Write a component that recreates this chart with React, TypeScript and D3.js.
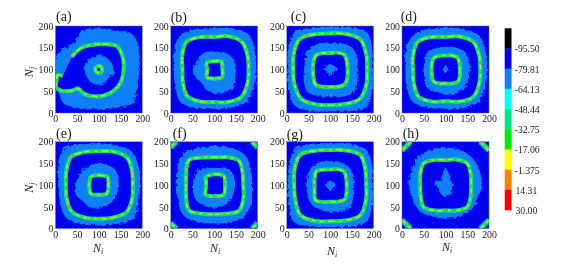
import React, { useEffect, useRef } from 'react';
import * as d3 from 'd3';

const aOuter = [92, 100, 112, 98, 95, 97, 85, 100, 105, 104, 112, 98, 92, 96, 110, 98];
const aBlob = [35, 33, 32, 33, 34, 32, 32, 33, 35, 32, 34, 35, 36, 32, 30, 32];
const aInnerRing = [8, 8, 8, 8, 8, 8, 8, 8, 8, 8, 8, 8, 8, 8, 8, 8];
const bOuter = [96, 101, 113, 102, 95, 101, 111, 100, 93, 97, 108, 97, 90, 96, 105, 101];
const bRing = [79, 83, 90, 83, 75, 81, 90, 80, 73, 78, 87, 80, 75, 81, 89, 83];
const bBlob = [50, 50, 48, 42, 42, 44, 45, 45, 47, 47, 42, 50, 55, 58, 62, 52];
const bInnerRing = [19, 20, 25, 21, 19, 20, 23, 19, 16, 18, 25, 22, 21, 22, 26, 21];
const cOuter = [98, 105, 120, 105, 98, 105, 118, 105, 98, 104, 116, 104, 96, 103, 120, 105];
const cRing = [85, 90, 98, 89, 83, 88, 99, 91, 85, 89, 95, 87, 82, 86, 96, 90];
const cBlob = [63, 67, 71, 66, 60, 65, 69, 62, 60, 66, 73, 66, 62, 68, 75, 68];
const cInnerRing = [40, 42, 47, 42, 38, 41, 46, 42, 40, 42, 48, 43, 40, 43, 48, 43];
const cCenter = [18, 15, 12, 11, 13, 12, 15, 14, 16, 10, 9, 13, 15, 12, 9, 10];
const dOuter = [95, 100, 110, 101, 96, 101, 108, 100, 92, 97, 106, 96, 90, 97, 106, 100];
const dRing = [80, 84, 90, 82, 75, 81, 90, 81, 75, 79, 88, 80, 73, 80, 90, 84];
const dBlob = [56, 58, 60, 55, 52, 54, 58, 52, 50, 52, 60, 55, 58, 60, 62, 56];
const dInnerRing = [33, 35, 39, 35, 32, 34, 38, 34, 32, 34, 39, 35, 32, 35, 40, 36];
const dCenter = [6, 6, 7, 8, 9, 7, 6, 6, 7, 5, 5, 6, 8, 6, 5, 5];
const eOuter = [95, 100, 108, 100, 96, 103, 116, 101, 93, 97, 106, 97, 92, 97, 110, 100];
const eRing = [78, 83, 91, 84, 78, 83, 91, 81, 76, 80, 87, 81, 77, 81, 89, 83];
const eBlob = [45, 48, 52, 50, 50, 50, 50, 50, 55, 57, 52, 55, 54, 50, 48, 45];
const eInnerRing = [22, 24, 28, 24, 23, 24, 27, 23, 22, 23, 27, 24, 22, 24, 27, 24];
const fOuter = [87, 92, 99, 94, 90, 93, 101, 92, 86, 90, 99, 92, 88, 92, 99, 93];
const fRing = [67, 71, 80, 70, 64, 69, 82, 70, 65, 70, 82, 71, 67, 71, 82, 73];
const fBlob = [48, 49, 50, 42, 40, 42, 50, 48, 48, 52, 54, 52, 54, 52, 52, 48];
const fInnerRing = [25, 27, 31, 27, 25, 25, 27, 20, 19, 21, 29, 27, 25, 27, 31, 27];
const gOuter = [98, 105, 116, 103, 96, 103, 116, 103, 98, 103, 119, 103, 96, 103, 118, 105];
const gRing = [83, 88, 98, 87, 81, 86, 98, 89, 83, 87, 97, 89, 83, 88, 98, 89];
const gBlob = [54, 58, 60, 58, 55, 58, 60, 56, 55, 56, 62, 60, 62, 64, 67, 58];
const gInnerRing = [38, 40, 45, 40, 36, 39, 45, 39, 36, 39, 48, 42, 38, 41, 47, 41];
const gCenter = [14, 11, 10, 9, 9, 9, 10, 10, 12, 9, 8, 11, 14, 11, 8, 10];
const hOuter = [84, 85, 88, 88, 86, 88, 90, 85, 85, 82, 85, 78, 77, 78, 82, 80];
const hRing = [59, 63, 71, 64, 58, 63, 71, 63, 58, 62, 71, 63, 58, 63, 71, 63];
const hCenter = [20, 15, 16, 24, 40, 22, 16, 22, 23, 17, 20, 24, 27, 23, 18, 18];

// panel (a) has a broken ring, so it is read as Ni, Nj pairs
const aRingPath: [number, number][] = [
  [38, 129], [48, 141], [65, 152], [103, 158], [141, 154], [155, 129], [157, 98], [149, 68],
  [126, 46], [95, 38], [65, 45], [53, 56], [38, 51], [15, 51], [2, 58], [3, 75], [5, 87], [17, 85],
];

const panelNames = ['(a)', '(b)', '(c)', '(d)', '(e)', '(f)', '(g)', '(h)'];
const outers = [aOuter, bOuter, cOuter, dOuter, eOuter, fOuter, gOuter, hOuter];
const rings = [null, bRing, cRing, dRing, eRing, fRing, gRing, hRing];
const blobs = [aBlob, bBlob, cBlob, dBlob, eBlob, fBlob, gBlob, null];
const innerRings = [aInnerRing, bInnerRing, cInnerRing, dInnerRing, eInnerRing, fInnerRing, gInnerRing, null];
const centers = [null, null, cCenter, dCenter, null, null, gCenter, hCenter];
const cornerSpans = [0, 0, 0, 0, 0, 13, 0, 20];

const levelColors = ['#000000', '#0000f0', '#0a80fa', '#00ffff', '#00e882', '#00ee00', '#ffff00', '#ff8000', '#ff0000'];
const levelLabels = ['-95.50', '-79.81', '-64.13', '-48.44', '-32.75', '-17.06', '-1.375', '14.31', '30.00'];
const axisTicks = [0, 50, 100, 150, 200];

const colLeft = [55.3, 170.7, 286.7, 402];
const rowTop = [26, 141.7];
const mapSize = 87;
const titleLeft = [56, 170.7, 290.7, 400.7, 56, 172.7, 286.7, 402.7];
const titleBase = [21, 22, 21, 21, 138, 137.7, 138.5, 137.5];
const niLeft = [98, 215, 332, 447];
const niBase = [252, 252, 255, 251];

const DEEP = levelColors[1];
const LIGHT = levelColors[2];
const FONT = '"Liberation Serif", serif';

const App = () => {
  const ref = useRef<SVGSVGElement>(null);

  useEffect(() => {
    const svg = d3.select(ref.current);
    svg.selectAll('*').remove();

    const defs = svg.append('defs');
    const soft = defs.append('filter').attr('id', 'soft');
    soft.append('feGaussianBlur').attr('stdDeviation', 0.5);
    const rough = defs.append('filter').attr('id', 'rough')
      .attr('x', '-10%').attr('y', '-10%').attr('width', '120%').attr('height', '120%');
    rough.append('feTurbulence').attr('type', 'fractalNoise').attr('baseFrequency', 0.28)
      .attr('numOctaves', 2).attr('seed', 4).attr('result', 'n');
    rough.append('feDisplacementMap').attr('in', 'SourceGraphic').attr('in2', 'n').attr('scale', 4.5);

    const root = svg.append('g').attr('filter', 'url(#soft)');

    const x = d3.scaleLinear().domain([0, 200]).range([0, mapSize]);
    const y = d3.scaleLinear().domain([0, 200]).range([mapSize, 0]);

    const radial = d3.line<number>()
      .x((r, i) => x(100 + r * Math.cos((i * Math.PI) / 8)))
      .y((r, i) => y(100 + r * Math.sin((i * Math.PI) / 8)))
      .curve(d3.curveCatmullRomClosed);
    const pairs = d3.line<[number, number]>()
      .x(d => x(d[0]))
      .y(d => y(d[1]))
      .curve(d3.curveCatmullRom);

    // green band with yellow core and a few hot specks
    const drawRing = (g: any, d: string) => {
      const layer = (color: string, width: number, dash?: string) =>
        g.append('path').attr('d', d).attr('fill', 'none').attr('stroke', color)
          .attr('stroke-width', width).attr('stroke-dasharray', dash || null);
      layer('#08d8a8', 4);
      layer('#10e848', 2.9);
      layer('#a8ee20', 1.5, '5 3 7 4 3 5');
      layer('#ff7000', 1.2, '1.5 17 1 29 2 23');
    };

    panelNames.forEach((name, i) => {
      const left = colLeft[i % 4];
      const top = rowTop[Math.floor(i / 4)];
      const g = root.append('g').attr('transform', `translate(${left},${top})`);

      const clipId = `clip-${i}`;
      defs.append('clipPath').attr('id', clipId)
        .append('rect').attr('width', mapSize).attr('height', mapSize);
      const map = g.append('g').attr('clip-path', `url(#${clipId})`);

      map.append('rect').attr('width', mapSize).attr('height', mapSize).attr('fill', DEEP);
      map.append('path').attr('d', radial(outers[i])).attr('fill', LIGHT).attr('filter', 'url(#rough)');

      const ring = rings[i];
      const ringPath = ring ? radial(ring) : pairs(aRingPath);
      map.append('path').attr('d', ring ? ringPath : `${ringPath}Z`).attr('fill', DEEP);
      if (blobs[i]) {
        map.append('path').attr('d', radial(blobs[i])).attr('fill', LIGHT).attr('filter', 'url(#rough)');
      }
      if (innerRings[i]) {
        map.append('path').attr('d', radial(innerRings[i])).attr('fill', DEEP);
      }
      if (centers[i]) {
        map.append('path').attr('d', radial(centers[i])).attr('fill', LIGHT).attr('filter', 'url(#rough)');
      }
      drawRing(map, ringPath);
      if (innerRings[i]) drawRing(map, radial(innerRings[i]));

      // arcs cut off in the corners of (f) and (h)
      const span = cornerSpans[i];
      if (span > 0) {
        const corners: [number, number][][] = [
          [[0, 200 - span], [span, 200]],
          [[200 - span, 200], [200, 200 - span]],
          [[0, span], [span, 0]],
          [[200 - span, 0], [200, span]],
        ];
        corners.forEach(c => {
          const d = d3.line<[number, number]>().x(p => x(p[0])).y(p => y(p[1]))(c);
          map.append('path').attr('d', d).attr('fill', 'none').attr('stroke', LIGHT).attr('stroke-width', 6);
          drawRing(map, d);
        });
      }

      g.append('rect').attr('width', mapSize).attr('height', mapSize)
        .attr('fill', 'none').attr('stroke', '#5b6f9c').attr('stroke-width', 0.5);

      const xAxis = g.append('g').attr('transform', `translate(0,${mapSize})`)
        .call(d3.axisBottom(x).tickValues(axisTicks).tickSize(0).tickPadding(2));
      const yAxis = g.append('g')
        .call(d3.axisLeft(y).tickValues(axisTicks).tickSize(0).tickPadding(2));
      [xAxis, yAxis].forEach(a => {
        a.select('.domain').remove();
        a.selectAll('text').style('font-family', FONT).style('font-size', '9.8px').attr('fill', '#222');
      });

      root.append('text').attr('x', titleLeft[i]).attr('y', titleBase[i])
        .style('font-family', FONT).style('font-size', '14px').attr('fill', '#222').text(name);
    });

    // axis names
    rowTop.forEach(top => {
      const label = root.append('text')
        .attr('transform', `translate(33,${top + 46}) rotate(-90)`)
        .attr('text-anchor', 'middle')
        .style('font-family', FONT).style('font-size', '12px').style('font-style', 'italic').attr('fill', '#222');
      label.append('tspan').text('N');
      label.append('tspan').attr('dy', 2).style('font-size', '8px').text('j');
    });
    niLeft.forEach((left, i) => {
      const label = root.append('text').attr('x', left).attr('y', niBase[i])
        .attr('text-anchor', 'middle')
        .style('font-family', FONT).style('font-size', '12px').style('font-style', 'italic').attr('fill', '#222');
      label.append('tspan').text('N');
      label.append('tspan').attr('dy', 2).style('font-size', '8px').text('i');
    });

    // colour bar
    const band = d3.scaleBand().domain(levelColors).range([28.3, 210]);
    root.selectAll('rect.level')
      .data(levelColors)
      .enter().append('rect')
      .attr('class', 'level')
      .attr('x', 504.7)
      .attr('y', d => band(d) as number)
      .attr('width', 6.8)
      .attr('height', band.bandwidth() + 0.3)
      .attr('fill', d => d);
    root.selectAll('text.level')
      .data(levelLabels)
      .enter().append('text')
      .attr('class', 'level')
      .attr('x', (d, i) => (i > 6 ? 515.5 : 514.7))
      .attr('y', (d, i) => (band(levelColors[i]) as number) + band.bandwidth() + 4)
      .style('font-family', FONT)
      .style('font-size', '9.7px')
      .attr('fill', '#222')
      .text(d => d);
  }, []);

  return (
    <svg
      ref={ref}
      width={561}
      height={268}
      style={{ position: 'absolute', left: 0, top: 0, background: '#fff' }}
    />
  );
};

export default App;
